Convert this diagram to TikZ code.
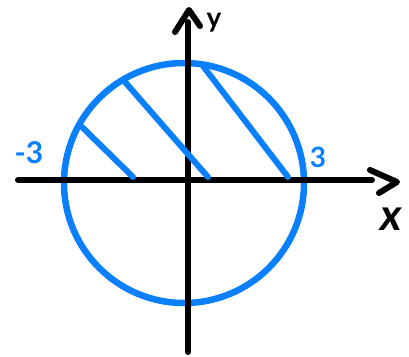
\documentclass[tikz,border=0pt]{standalone}
\usepackage{fontspec}
\setmainfont{Lato}
\definecolor{myblue}{RGB}{10,128,255}
\begin{document}
\begin{tikzpicture}[x=1pt,y=-1pt,
  axis/.style={line width=6pt, line cap=round, line join=round, black},
  hatch/.style={line width=6pt, line cap=round, myblue},
  lbl/.style={inner sep=0pt, font=\fontsize{28}{30}\selectfont\bfseries}]
\useasboundingbox (0,0) rectangle (409,356);
\coordinate (O) at (184,183);
\node[circle, draw=myblue, line width=6.5pt, minimum size=240pt, inner sep=0pt] (C) at (O) {};
% axes
\coordinate (xl) at (18,180);
\coordinate (xr) at (372,180);
\coordinate (xa1) at (370,170);
\coordinate (xa2) at (397,182);
\coordinate (xa3) at (379,193);
\draw[axis] (xl) -- (xr);
\draw[axis] (xa1) -- (xa2) -- (xa3);
\coordinate (yb) at (188,352);
\coordinate (yt) at (188,22);
\coordinate (ya1) at (175,32);
\coordinate (ya2) at (189,10);
\coordinate (ya3) at (200,26);
\draw[axis] (yb) -- (yt);
\draw[axis] (ya1) -- (ya2) -- (ya3);
% hatching
\coordinate (h1a) at (82,127);
\coordinate (h1b) at (133,177);
\coordinate (h2a) at (125,82);
\coordinate (h2b) at (208,177);
\coordinate (h3a) at (203,66);
\coordinate (h3b) at (288,177);
\draw[hatch] (h1a) -- (h1b);
\draw[hatch] (h2a) -- (h2b);
\draw[hatch] (h3a) -- (h3b);
% labels
\node[lbl] (ylab) at (214,23) {y};
\node[inner sep=0pt, font=\fontsize{44}{46}\selectfont\bfseries\itshape] (xlab) at (391,219) {x};
\node[lbl, text=myblue, font=\fontsize{28}{30}\selectfont\bfseries] (p3) at (318,157) {3};
\node[lbl, text=myblue, font=\fontsize{30}{32}\selectfont\bfseries] (m3) at (29,153) {-3};
\end{tikzpicture}
\end{document}
